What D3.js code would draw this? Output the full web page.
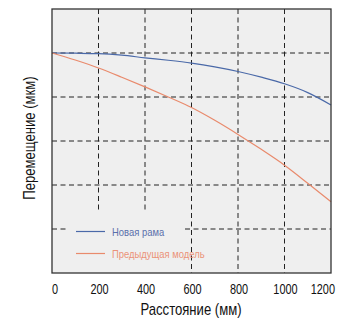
<!DOCTYPE html>
<html><head><meta charset="utf-8">
<script src="https://cdn.jsdelivr.net/npm/d3@7"></script>
<style>
body{margin:0;background:#fff;}
text{font-family:"Liberation Sans Narrow","Arial Narrow","Liberation Sans",Arial,sans-serif;}
</style></head>
<body><svg id="c" width="343" height="320"></svg>
<script>
const distances = [0, 100, 200, 300, 400, 500, 600, 700, 800, 900, 1000, 1100, 1200];
const newFrame = [5.0, 4.995, 4.985, 4.95, 4.89, 4.835, 4.77, 4.685, 4.58, 4.45, 4.30, 4.10, 3.82];
const prevModel = [5.0, 4.84, 4.66, 4.45, 4.23, 4.00, 3.76, 3.47, 3.15, 2.81, 2.45, 2.04, 1.62];
const xTicks = [0, 200, 400, 600, 800, 1000, 1200];
const yGrid = [1, 2, 3, 4, 5];
const seriesNames = ["Новая рама", "Предыдущая модель"];
const seriesColors = ["#4a69a8", "#e98a6c"];
const textColors = ["#5a6fac", "#eb9278"];

const svg = d3.select("#c");
const L = 52, R = 331, T = 9, B = 273;
const x = d3.scaleLinear().domain([0, 1200]).range([L, R]);
const y = d3.scaleLinear().domain([0, 6]).range([B, T]);

// condensed text helper
function ctext(px, py, str, size, sx, anchor, fill, rot) {
  return svg.append("text")
    .attr("transform", `translate(${px},${py})` + (rot ? ` rotate(${rot})` : "") + ` scale(${sx},1)`)
    .attr("text-anchor", anchor).attr("font-size", size).attr("fill", fill).text(str);
}

svg.append("rect").attr("x", L).attr("y", T).attr("width", R - L).attr("height", B - T).attr("fill", "#efefef");

const lgX0 = 66, lgX1 = 185, lgY0 = 213;
const dash = "5,3.5";
const g = svg.append("g");
xTicks.slice(1, -1).forEach(v => {
  const xv = x(v);
  const inLegend = xv > lgX0 && xv < lgX1;
  g.append("line").attr("x1", xv).attr("x2", xv).attr("y1", T).attr("y2", inLegend ? lgY0 : B)
    .attr("stroke", "#222").attr("stroke-width", 1).attr("stroke-dasharray", dash);
});
yGrid.forEach(v => {
  const yv = y(v);
  const segs = yv > lgY0 ? [[L, lgX0], [lgX1, R]] : [[L, R]];
  segs.forEach(s => g.append("line").attr("x1", s[0]).attr("x2", s[1]).attr("y1", yv).attr("y2", yv)
      .attr("stroke", "#222").attr("stroke-dasharray", dash));
});

const line = d3.line().x((d, i) => x(distances[i])).y(d => y(d)).curve(d3.curveMonotoneX);
[newFrame, prevModel].forEach((s, i) => {
  svg.append("path").attr("d", line(s)).attr("fill", "none")
    .attr("stroke", seriesColors[i]).attr("stroke-width", 1.2);
});

svg.append("rect").attr("x", L).attr("y", T).attr("width", R - L).attr("height", B - T)
  .attr("fill", "none").attr("stroke", "#333").attr("stroke-width", 1.3);

seriesNames.forEach((n, i) => {
  const ly = 231.5 + i * 22;
  svg.append("line").attr("x1", 76).attr("x2", 105).attr("y1", ly).attr("y2", ly)
    .attr("stroke", seriesColors[i]).attr("stroke-width", 1.2);
  ctext(112, ly + 4.2, n, 11.8, 0.8, "start", textColors[i]);
});

xTicks.forEach((v, i) => {
  let anchor = "middle", xp = x(v) + 1;
  if (i === 0) { anchor = "start"; xp = L; }
  if (i === xTicks.length - 1) { anchor = "end"; xp = 335; }
  ctext(xp, 294, v, 14, 0.78, anchor, "#111");
});
ctext(191, 315, "Расстояние (мм)", 15.8, 0.83, "middle", "#111");
ctext(34.5, 138, "Перемещение (мкм)", 15.8, 0.83, "middle", "#111", -90);
</script></body></html>
